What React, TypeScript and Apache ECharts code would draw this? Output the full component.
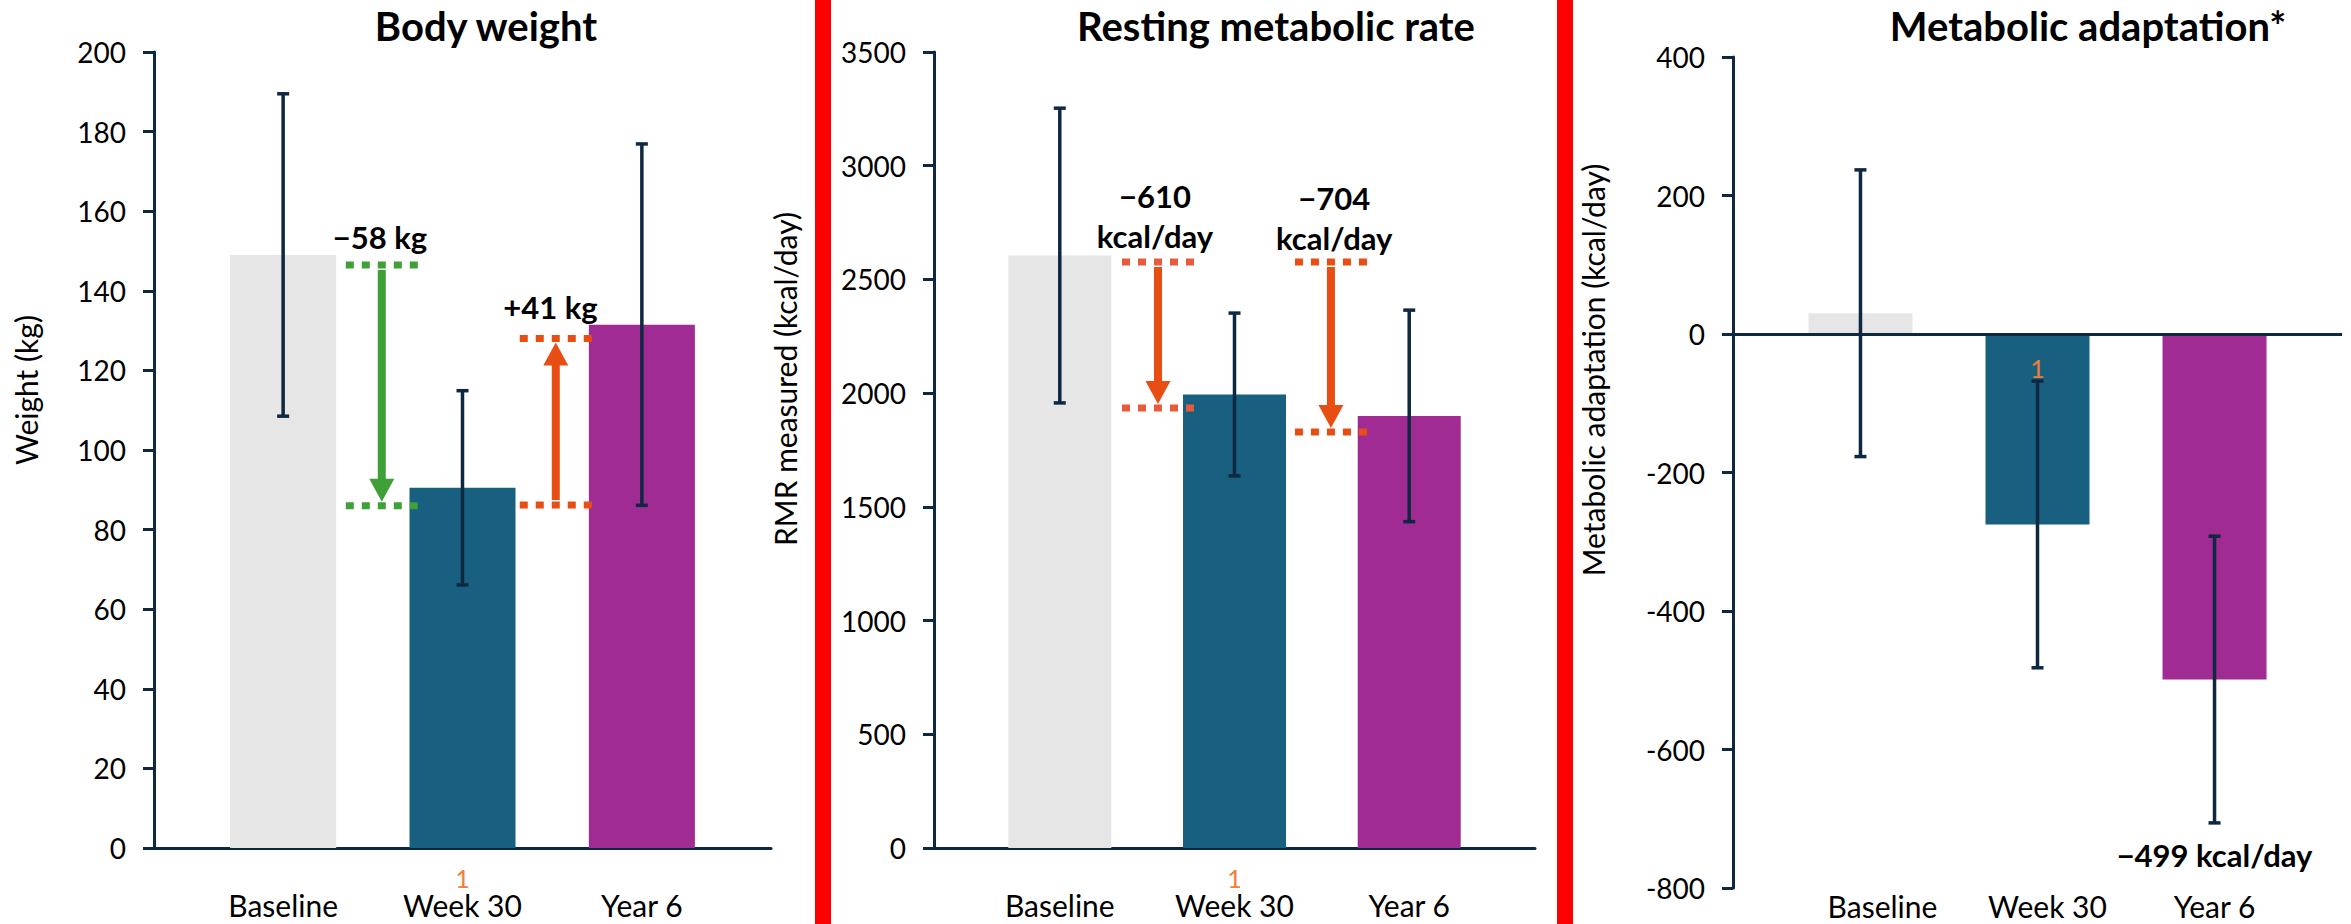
import { useEffect, useRef } from "react";
import * as echarts from "echarts";

// ---------- data ----------
const categories = ["Baseline", "Week 30", "Year 6"];
const footnoteCategory = "Week 30";

// Body weight (kg): mean and SD
const weightMean = [149, 90.5, 131.5];
const weightSD = [40.5, 24.4, 45.4];
// Resting metabolic rate (kcal/day)
const rmrMean = [2605, 1994, 1900];
const rmrSD = [648, 358, 465];
// Metabolic adaptation (kcal/day)
const adaptMean = [30, -275, -499];
const adaptSD = [207, 207, 207];

// change annotations (x in category units, levels in axis units)
const weightChangeX = [0.55, 1.52];
const weightChangeFrom = [146.5, 86.2];
const weightChangeTo = [86, 128];
const weightChangeText = ["−58 kg", "+41 kg"];
const weightChangeTextPos = [[0.54, 153.5], [1.49, 136]];

const rmrChangeX = [0.562, 1.552];
const rmrChangeFrom = [2577, 2577];
const rmrChangeTo = [1935, 1829];
const rmrChangeText = ["−610\nkcal/day", "−704\nkcal/day"];
const rmrChangeTextPos = [[0.545, 2779], [1.571, 2770]];

const adaptNoteText = ["−499 kcal/day"];
const adaptNotePos = [[2, -752]];
const adaptFootText = ["1"];
const adaptFootPos = [[1, -49]];

// axis ranges [min, max, interval]
const weightTicks = [0, 200, 20];
const rmrTicks = [0, 3500, 500];
const adaptTicks = [-800, 400, 200];

const titles = ["Body weight", "Resting metabolic rate", "Metabolic adaptation*"];
const yNames = ["Weight (kg)", "RMR measured (kcal/day)", "Metabolic adaptation (kcal/day)"];

// ---------- styles ----------
const FONT = "Lato";
const NAVY = "#0E2841";
const BAR_COLORS = ["#E7E6E6", "#185F80", "#A02B93"];
const GREEN = "#3FA037";
const ORANGE = "#E84E13";
const ORANGE_DOT = "#E95A3C";
const SUP = "#F07D3A";
const XMIN = -0.72;
const XMAX = 2.72;

function xAxisFor(gi: number, withLine: boolean, rich: boolean, margin: number) {
  return {
    type: "value",
    gridIndex: gi,
    min: XMIN,
    max: XMAX,
    splitLine: { show: false },
    axisTick: { show: false },
    axisLine: { show: withLine, onZero: false, lineStyle: { color: NAVY, width: 3 } },
    axisLabel: {
      customValues: [0, 1, 2],
      margin,
      formatter: (v: number) => {
        const c = categories[Math.round(v)];
        if (rich) {
          return (c === footnoteCategory ? "{sup|1}" : "{sup| }") + "\n{lab|" + c + "}";
        }
        return "{l" + Math.round(v) + "|" + c + "}";
      },
      rich: {
        sup: { fontSize: 25, color: SUP, lineHeight: 25, fontFamily: FONT },
        lab: { fontSize: 30, color: "#000", lineHeight: 30, fontFamily: FONT },
        l0: { fontSize: 30, color: "#000", lineHeight: 30, fontFamily: FONT, padding: [0, 0, 0, 44] },
        l1: { fontSize: 30, color: "#000", lineHeight: 30, fontFamily: FONT, padding: [0, 0, 0, 20] },
        l2: { fontSize: 30, color: "#000", lineHeight: 30, fontFamily: FONT },
      },
    },
  };
}

function yAxisFor(gi: number, ticks: number[], name: string, gap: number, shift: number) {
  return {
    type: "value",
    gridIndex: gi,
    min: ticks[0],
    max: ticks[1],
    interval: ticks[2],
    splitLine: { show: false },
    axisLine: { show: true, onZero: false, lineStyle: { color: NAVY, width: 3 } },
    axisTick: { show: true, inside: false, length: 11, lineStyle: { color: NAVY, width: 3 } },
    axisLabel: {
      fontSize: 28,
      color: "#000",
      fontFamily: FONT,
      margin: 28,
      formatter: (v: number) => String(v),
    },
    name,
    nameLocation: "middle",
    nameGap: gap,
    nameTextStyle: { fontSize: 30, color: "#000", fontFamily: FONT, padding: [0, 0, 0, shift] },
  };
}

function barSeries(gi: number, mean: number[], width: number, extra?: any) {
  return {
    type: "bar",
    xAxisIndex: gi,
    yAxisIndex: gi,
    barWidth: width,
    z: 2,
    data: mean.map((m, i) => ({ value: [i, m], itemStyle: { color: BAR_COLORS[i] } })),
    ...(extra || {}),
  };
}

function errorSeries(gi: number, mean: number[], sd: number[]) {
  return {
    type: "custom",
    xAxisIndex: gi,
    yAxisIndex: gi,
    z: 4,
    data: mean.map((m, i) => [i, m - sd[i], m + sd[i]]),
    renderItem: (_p: any, api: any) => {
      const lo = api.coord([api.value(0), api.value(1)]);
      const hi = api.coord([api.value(0), api.value(2)]);
      const w = 6;
      const style = { stroke: NAVY, lineWidth: 3.5 };
      return {
        type: "group",
        children: [
          { type: "line", shape: { x1: lo[0], y1: lo[1], x2: hi[0], y2: hi[1] }, style },
          { type: "line", shape: { x1: lo[0] - w, y1: lo[1], x2: lo[0] + w, y2: lo[1] }, style },
          { type: "line", shape: { x1: hi[0] - w, y1: hi[1], x2: hi[0] + w, y2: hi[1] }, style },
        ],
      };
    },
  };
}

function changeSeries(gi: number, xs: number[], from: number[], to: number[], cols: string[], dots: string[]) {
  return {
    type: "custom",
    xAxisIndex: gi,
    yAxisIndex: gi,
    z: 5,
    data: xs.map((x, i) => [x, from[i], to[i], i]),
    renderItem: (_p: any, api: any) => {
      const i = api.value(3);
      const pF = api.coord([api.value(0), api.value(1)]);
      const pT = api.coord([api.value(0), api.value(2)]);
      const col = cols[i];
      const dcol = dots[i];
      const half = 36;
      const dir = pT[1] > pF[1] ? 1 : -1;
      const headLen = 23;
      const headHalf = 12.5;
      const start = pF[1] + dir * 5;
      const tip = pT[1] - dir * 4;
      const base = tip - dir * headLen;
      const dotStyle = { stroke: dcol, lineWidth: 7, lineDash: [8, 8] };
      return {
        type: "group",
        children: [
          { type: "line", shape: { x1: pF[0] - half, y1: pF[1], x2: pF[0] + half, y2: pF[1] }, style: dotStyle },
          { type: "line", shape: { x1: pT[0] - half, y1: pT[1], x2: pT[0] + half, y2: pT[1] }, style: dotStyle },
          { type: "line", shape: { x1: pF[0], y1: start, x2: pF[0], y2: base + dir }, style: { stroke: col, lineWidth: 8 } },
          {
            type: "polygon",
            shape: { points: [[pF[0] - headHalf, base], [pF[0] + headHalf, base], [pF[0], tip]] },
            style: { fill: col },
          },
        ],
      };
    },
  };
}

function textSeries(gi: number, pos: number[][], texts: string[], size: number, weight: string, color: string) {
  return {
    type: "custom",
    xAxisIndex: gi,
    yAxisIndex: gi,
    z: 6,
    data: pos.map((p, i) => [p[0], p[1], i]),
    renderItem: (_p: any, api: any) => {
      const pt = api.coord([api.value(0), api.value(1)]);
      return {
        type: "text",
        x: pt[0],
        y: pt[1],
        style: {
          text: texts[api.value(2)],
          fontSize: size,
          fontWeight: weight,
          fontFamily: FONT,
          fill: color,
          align: "center",
          verticalAlign: "middle",
          lineHeight: 40,
        },
      };
    },
  };
}

export default function App() {
  const ref = useRef<HTMLDivElement>(null);
  useEffect(() => {
    if (!ref.current) return;
    const chart = echarts.init(ref.current, undefined, { renderer: "svg" });
    const titleStyle = (t: string, x: number) => ({
      type: "text",
      x,
      y: 26,
      z: 10,
      style: { text: t, fontSize: 40, fontWeight: "bold", fontFamily: FONT, fill: "#000", align: "center", verticalAlign: "middle" },
    });
    chart.setOption({
      animation: false,
      backgroundColor: "#fff",
      textStyle: { fontFamily: FONT },
      grid: [
        { left: 154, top: 52, width: 617, height: 796 },
        { left: 934, top: 52, width: 601, height: 796 },
        { left: 1733, top: 57, width: 609, height: 831 },
      ],
      xAxis: [xAxisFor(0, true, true, 17), xAxisFor(1, true, true, 17), xAxisFor(2, false, false, 3)],
      yAxis: [
        yAxisFor(0, weightTicks, yNames[0], 113, 120),
        yAxisFor(1, rmrTicks, yNames[1], 134, 142),
        yAxisFor(2, adaptTicks, yNames[2], 125, 205),
      ],
      graphic: [
        { type: "rect", shape: { x: 815, y: 0, width: 16, height: 924 }, style: { fill: "#FF0000" }, z: 10 },
        { type: "rect", shape: { x: 1557, y: 0, width: 16, height: 924 }, style: { fill: "#FF0000" }, z: 10 },
        titleStyle(titles[0], 486),
        titleStyle(titles[1], 1276),
        titleStyle(titles[2], 2088),
      ],
      series: [
        barSeries(0, weightMean, 106),
        errorSeries(0, weightMean, weightSD),
        changeSeries(0, weightChangeX, weightChangeFrom, weightChangeTo, [GREEN, ORANGE], [GREEN, ORANGE]),
        textSeries(0, weightChangeTextPos, weightChangeText, 31, "bold", "#000"),

        barSeries(1, rmrMean, 103),
        errorSeries(1, rmrMean, rmrSD),
        changeSeries(1, rmrChangeX, rmrChangeFrom, rmrChangeTo, [ORANGE, ORANGE], [ORANGE_DOT, ORANGE]),
        textSeries(1, rmrChangeTextPos, rmrChangeText, 31, "bold", "#000"),

        barSeries(2, adaptMean, 104, {
          markLine: {
            silent: true,
            symbol: "none",
            label: { show: false },
            lineStyle: { color: NAVY, width: 3, type: "solid" },
            data: [{ yAxis: 0 }],
          },
        }),
        errorSeries(2, adaptMean, adaptSD),
        textSeries(2, adaptNotePos, adaptNoteText, 31, "bold", "#000"),
        textSeries(2, adaptFootPos, adaptFootText, 25, "normal", SUP),
      ],
    });
    return () => chart.dispose();
  }, []);
  return (
    <div
      ref={ref}
      style={{ position: "fixed", left: 0, top: 0, width: 2351, height: 924, background: "#fff" }}
    />
  );
}
